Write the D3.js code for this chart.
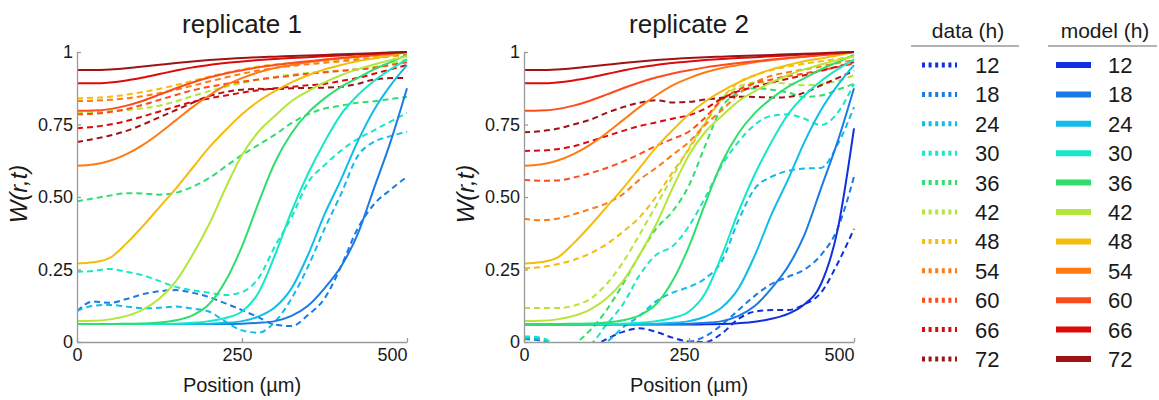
<!DOCTYPE html>
<html>
<head>
<meta charset="utf-8">
<script src="https://cdn.jsdelivr.net/npm/d3@7"></script>
<style>
  body { margin: 0; background: #fff; }
  svg { font-family: 'Liberation Sans', Arial, sans-serif; }
</style>
</head>
<body>
<svg id="chart" width="1159" height="400"></svg>
<script>
// x positions (µm) where every profile is sampled
const positions = [0, 25, 50, 75, 100, 125, 150, 175, 200, 225, 250, 275, 300, 325, 350, 375, 400, 425, 450, 475, 500];
const hours = [12, 18, 24, 30, 36, 42, 48, 54, 60, 66, 72];
const hourColors = ['#0f2fe0', '#1a7ae6', '#10bce8', '#14e8c6', '#2fde6e', '#b4e63a', '#f2bd0c', '#ff7a12', '#ff4a1c', '#dc0a0a', '#9e1414'];
const panelTitles = ['replicate 1', 'replicate 2'];
const yTicks = [0, 0.25, 0.5, 0.75, 1];
const yTickLabels = ['0', '0.25', '0.50', '0.75', '1'];
const xTicks = [0, 250, 500];

// model W(r,t), same fit drawn in both panels
const model12 = [0.06, 0.06, 0.06, 0.06, 0.06, 0.06, 0.06, 0.06, 0.06, 0.06, 0.06, 0.061, 0.062, 0.065, 0.07, 0.08, 0.097, 0.13, 0.2, 0.385, 0.737];
const model18 = [0.062, 0.062, 0.062, 0.062, 0.062, 0.062, 0.062, 0.062, 0.062, 0.062, 0.063, 0.066, 0.072, 0.09, 0.125, 0.185, 0.26, 0.37, 0.53, 0.69, 0.875];
const model24 = [0.062, 0.062, 0.062, 0.062, 0.062, 0.062, 0.062, 0.062, 0.063, 0.066, 0.072, 0.088, 0.12, 0.185, 0.3, 0.44, 0.56, 0.69, 0.8, 0.885, 0.955];
const model30 = [0.062, 0.062, 0.062, 0.062, 0.062, 0.062, 0.063, 0.066, 0.072, 0.083, 0.105, 0.17, 0.3, 0.45, 0.58, 0.69, 0.785, 0.85, 0.9, 0.94, 0.975];
const model36 = [0.062, 0.062, 0.062, 0.063, 0.064, 0.067, 0.075, 0.092, 0.13, 0.21, 0.33, 0.48, 0.62, 0.72, 0.79, 0.84, 0.88, 0.91, 0.94, 0.965, 0.99];
const model42 = [0.072, 0.073, 0.078, 0.09, 0.112, 0.15, 0.21, 0.3, 0.405, 0.53, 0.645, 0.725, 0.78, 0.83, 0.865, 0.895, 0.92, 0.94, 0.957, 0.972, 0.985];
const model48 = [0.271, 0.275, 0.29, 0.34, 0.4, 0.465, 0.53, 0.6, 0.67, 0.73, 0.785, 0.83, 0.865, 0.895, 0.92, 0.94, 0.955, 0.968, 0.978, 0.988, 1.0];
const model54 = [0.608, 0.612, 0.625, 0.648, 0.68, 0.72, 0.765, 0.81, 0.85, 0.885, 0.91, 0.93, 0.945, 0.955, 0.965, 0.972, 0.978, 0.984, 0.99, 0.995, 1.0];
const model60 = [0.797, 0.798, 0.803, 0.815, 0.832, 0.853, 0.875, 0.895, 0.912, 0.926, 0.937, 0.947, 0.955, 0.962, 0.968, 0.974, 0.979, 0.984, 0.989, 0.994, 1.0];
const model66 = [0.892, 0.892, 0.895, 0.902, 0.912, 0.924, 0.936, 0.947, 0.955, 0.962, 0.967, 0.972, 0.976, 0.979, 0.982, 0.985, 0.988, 0.991, 0.994, 0.997, 1.0];
const model72 = [0.938, 0.938, 0.94, 0.944, 0.95, 0.956, 0.962, 0.967, 0.972, 0.976, 0.979, 0.982, 0.984, 0.986, 0.988, 0.99, 0.992, 0.994, 0.996, 0.998, 1.0];

// measured profiles, replicate 1 (no 12 h profile)
const rep1Data18 = [0.107, 0.14, 0.135, 0.148, 0.165, 0.175, 0.179, 0.17, 0.155, 0.133, 0.11, 0.085, 0.06, 0.055, 0.093, 0.15, 0.26, 0.39, 0.475, 0.525, 0.57];
const rep1Data24 = [0.107, 0.125, 0.128, 0.122, 0.116, 0.118, 0.122, 0.115, 0.105, 0.07, 0.04, 0.032, 0.07, 0.15, 0.26, 0.39, 0.51, 0.64, 0.69, 0.71, 0.725];
const rep1Data30 = [0.242, 0.245, 0.252, 0.242, 0.23, 0.21, 0.19, 0.178, 0.17, 0.162, 0.172, 0.22, 0.33, 0.43, 0.55, 0.61, 0.66, 0.7, 0.73, 0.76, 0.79];
const rep1Data36 = [0.485, 0.495, 0.505, 0.513, 0.512, 0.508, 0.515, 0.535, 0.565, 0.605, 0.645, 0.68, 0.715, 0.755, 0.785, 0.805, 0.815, 0.825, 0.83, 0.838, 0.845];
const rep1Data42 = [0.79, 0.792, 0.796, 0.8, 0.806, 0.815, 0.83, 0.848, 0.865, 0.88, 0.893, 0.905, 0.915, 0.922, 0.928, 0.932, 0.936, 0.94, 0.948, 0.96, 0.975];
const rep1Data48 = [0.84, 0.842, 0.846, 0.853, 0.862, 0.873, 0.886, 0.9, 0.915, 0.928, 0.94, 0.95, 0.957, 0.962, 0.966, 0.97, 0.974, 0.978, 0.983, 0.99, 0.995];
const rep1Data54 = [0.831, 0.832, 0.835, 0.84, 0.848, 0.858, 0.87, 0.884, 0.898, 0.912, 0.925, 0.936, 0.945, 0.952, 0.958, 0.963, 0.968, 0.973, 0.978, 0.985, 0.99];
const rep1Data60 = [0.785, 0.787, 0.793, 0.803, 0.818, 0.835, 0.852, 0.868, 0.88, 0.89, 0.898, 0.905, 0.912, 0.918, 0.925, 0.93, 0.935, 0.94, 0.945, 0.955, 0.965];
const rep1Data66 = [0.737, 0.742, 0.75, 0.762, 0.778, 0.795, 0.812, 0.828, 0.84, 0.85, 0.86, 0.868, 0.875, 0.88, 0.885, 0.89, 0.9, 0.91, 0.925, 0.94, 0.955];
const rep1Data72 = [0.69, 0.7, 0.712, 0.728, 0.75, 0.775, 0.8, 0.825, 0.848, 0.862, 0.87, 0.873, 0.872, 0.875, 0.876, 0.877, 0.88, 0.89, 0.905, 0.91, 0.91];

// measured profiles, replicate 2 (values below 0 get clipped by the axes)
const rep2Data12 = [-0.05, -0.05, -0.05, -0.04, -0.02, 0.01, 0.035, 0.047, 0.035, 0.015, 0.002, 0.0, 0.03, 0.08, 0.105, 0.11, 0.11, 0.13, 0.17, 0.27, 0.39];
const rep2Data18 = [0.01, 0.005, -0.02, -0.05, -0.05, -0.04, -0.02, -0.01, -0.01, -0.005, 0.0, 0.02, 0.06, 0.11, 0.16, 0.2, 0.225, 0.25, 0.3, 0.39, 0.57];
const rep2Data24 = [0.015, 0.01, -0.02, -0.04, -0.02, 0.0, 0.05, 0.09, 0.14, 0.17, 0.19, 0.22, 0.28, 0.42, 0.53, 0.57, 0.59, 0.598, 0.6, 0.68, 0.81];
const rep2Data30 = [0.02, 0.015, -0.01, -0.03, -0.01, 0.06, 0.13, 0.23, 0.3, 0.33, 0.4, 0.5, 0.61, 0.69, 0.75, 0.78, 0.785, 0.77, 0.748, 0.79, 0.89];
const rep2Data36 = [-0.05, -0.05, -0.04, -0.01, 0.04, 0.11, 0.2, 0.3, 0.39, 0.45, 0.54, 0.68, 0.81, 0.86, 0.875, 0.87, 0.86, 0.845, 0.85, 0.87, 0.89];
const rep2Data42 = [0.117, 0.117, 0.117, 0.125, 0.148, 0.2, 0.275, 0.37, 0.47, 0.57, 0.67, 0.76, 0.84, 0.88, 0.895, 0.895, 0.89, 0.885, 0.89, 0.9, 0.92];
const rep2Data48 = [0.254, 0.258, 0.268, 0.283, 0.305, 0.337, 0.38, 0.43, 0.5, 0.585, 0.665, 0.755, 0.84, 0.895, 0.92, 0.938, 0.95, 0.96, 0.968, 0.976, 0.984];
const rep2Data54 = [0.425, 0.42, 0.425, 0.44, 0.458, 0.478, 0.51, 0.56, 0.6, 0.645, 0.69, 0.75, 0.8, 0.855, 0.895, 0.918, 0.93, 0.94, 0.95, 0.962, 0.972];
const rep2Data60 = [0.559, 0.556, 0.557, 0.567, 0.582, 0.6, 0.622, 0.648, 0.676, 0.7, 0.726, 0.775, 0.835, 0.87, 0.893, 0.905, 0.917, 0.926, 0.937, 0.948, 0.96];
const rep2Data66 = [0.659, 0.66, 0.665, 0.675, 0.692, 0.71, 0.728, 0.745, 0.757, 0.77, 0.782, 0.805, 0.84, 0.865, 0.88, 0.895, 0.908, 0.92, 0.935, 0.95, 0.965];
const rep2Data72 = [0.723, 0.727, 0.735, 0.75, 0.766, 0.79, 0.81, 0.825, 0.834, 0.826, 0.828, 0.836, 0.842, 0.846, 0.845, 0.843, 0.845, 0.86, 0.885, 0.91, 0.935];

const models = {
  12: model12, 18: model18, 24: model24, 30: model30, 36: model36, 42: model42,
  48: model48, 54: model54, 60: model60, 66: model66, 72: model72,
};

const panels = [
  {
    title: panelTitles[0],
    left: 77,
    hours: hours.slice(1),
    data: {
      18: rep1Data18, 24: rep1Data24, 30: rep1Data30, 36: rep1Data36, 42: rep1Data42,
      48: rep1Data48, 54: rep1Data54, 60: rep1Data60, 66: rep1Data66, 72: rep1Data72,
    },
  },
  {
    title: panelTitles[1],
    left: 524,
    hours,
    data: {
      12: rep2Data12, 18: rep2Data18, 24: rep2Data24, 30: rep2Data30, 36: rep2Data36, 42: rep2Data42,
      48: rep2Data48, 54: rep2Data54, 60: rep2Data60, 66: rep2Data66, 72: rep2Data72,
    },
  },
];

const color = d3.scaleOrdinal().domain(hours).range(hourColors);
const svg = d3.select('#chart');

const plotTop = 52;
const plotBottom = 342;
const plotWidth = 330;
const axisColor = '#9a9a9a';
const textColor = '#1a1a1a';

const y = d3.scaleLinear().domain([0, 1]).range([plotBottom, plotTop]);

panels.forEach((panel, pi) => {
  const x = d3.scaleLinear().domain([0, 500]).range([panel.left, panel.left + plotWidth]);

  svg.append('clipPath')
    .attr('id', `clip${pi}`)
    .append('rect')
    .attr('x', panel.left)
    .attr('y', plotTop - 3)
    .attr('width', plotWidth + 3)
    .attr('height', plotBottom - plotTop + 4);

  const line = d3.line()
    .x((d, i) => x(positions[i]))
    .y((d) => y(d))
    .curve(d3.curveMonotoneX);

  const g = svg.append('g').attr('clip-path', `url(#clip${pi})`);

  // measured profiles (dashed)
  panel.hours.forEach((h) => {
    g.append('path')
      .attr('d', line(panel.data[h]))
      .attr('fill', 'none')
      .attr('stroke', color(h))
      .attr('stroke-width', 2)
      .attr('stroke-dasharray', '6,4');
  });

  // model (solid)
  panel.hours.forEach((h) => {
    g.append('path')
      .attr('d', line(models[h]))
      .attr('fill', 'none')
      .attr('stroke', color(h))
      .attr('stroke-width', 2);
  });

  // axes
  const yAxis = svg.append('g')
    .attr('transform', `translate(${panel.left},0)`)
    .call(d3.axisLeft(y)
      .tickValues(yTicks)
      .tickFormat((d, i) => yTickLabels[i])
      .tickSize(-4)
      .tickSizeOuter(0)
      .tickPadding(4));

  const xAxis = svg.append('g')
    .attr('transform', `translate(0,${plotBottom})`)
    .call(d3.axisBottom(x)
      .tickValues(xTicks)
      .tickSize(-4)
      .tickSizeOuter(0)
      .tickPadding(6));

  xAxis.selectAll('.tick text')
    .filter((d) => d === 500)
    .attr('text-anchor', 'end');
  xAxis.selectAll('.tick text')
    .filter((d) => d === 250)
    .attr('dx', -5);

  [yAxis, xAxis].forEach((ax) => {
    ax.selectAll('path, line')
      .attr('stroke', axisColor)
      .attr('stroke-width', 1.3);
    ax.selectAll('text')
      .attr('fill', textColor)
      .style('font-size', '18px');
  });

  // title and axis labels
  svg.append('text')
    .attr('x', panel.left + plotWidth / 2)
    .attr('y', 33)
    .attr('text-anchor', 'middle')
    .attr('fill', textColor)
    .style('font-size', '26px')
    .text(panel.title);

  svg.append('text')
    .attr('x', panel.left + plotWidth / 2)
    .attr('y', 392)
    .attr('text-anchor', 'middle')
    .attr('fill', textColor)
    .style('font-size', '20px')
    .text('Position (µm)');

  svg.append('text')
    .attr('transform', `translate(${panel.left - 50},194) rotate(-90)`)
    .attr('text-anchor', 'middle')
    .attr('fill', textColor)
    .style('font-size', '24px')
    .style('font-style', 'italic')
    .text('W(r,t)');
});

// legend
const legendRow = d3.scalePoint().domain(hours).range([65, 359]);
const legendCols = [
  { title: 'data (h)', center: 968, lineFrom: 911, lineTo: 1019, swatch: [922, 957], num: 975, dashed: true },
  { title: 'model (h)', center: 1105, lineFrom: 1048, lineTo: 1157, swatch: [1056, 1091], num: 1108, dashed: false },
];

legendCols.forEach((col) => {
  svg.append('text')
    .attr('x', col.center)
    .attr('y', 38)
    .attr('text-anchor', 'middle')
    .attr('fill', textColor)
    .style('font-size', '21px')
    .text(col.title);

  svg.append('line')
    .attr('x1', col.lineFrom)
    .attr('x2', col.lineTo)
    .attr('y1', 46)
    .attr('y2', 46)
    .attr('stroke', axisColor)
    .attr('stroke-width', 1.5);

  hours.forEach((h) => {
    svg.append('line')
      .attr('x1', col.swatch[0])
      .attr('x2', col.swatch[1])
      .attr('y1', legendRow(h))
      .attr('y2', legendRow(h))
      .attr('stroke', color(h))
      .attr('stroke-width', col.dashed ? 5 : 6)
      .attr('stroke-dasharray', col.dashed ? '3,3.6' : null);

    svg.append('text')
      .attr('x', col.num)
      .attr('y', legendRow(h))
      .attr('dy', '0.36em')
      .attr('fill', textColor)
      .style('font-size', '22px')
      .text(h);
  });
});
</script>
</body>
</html>
